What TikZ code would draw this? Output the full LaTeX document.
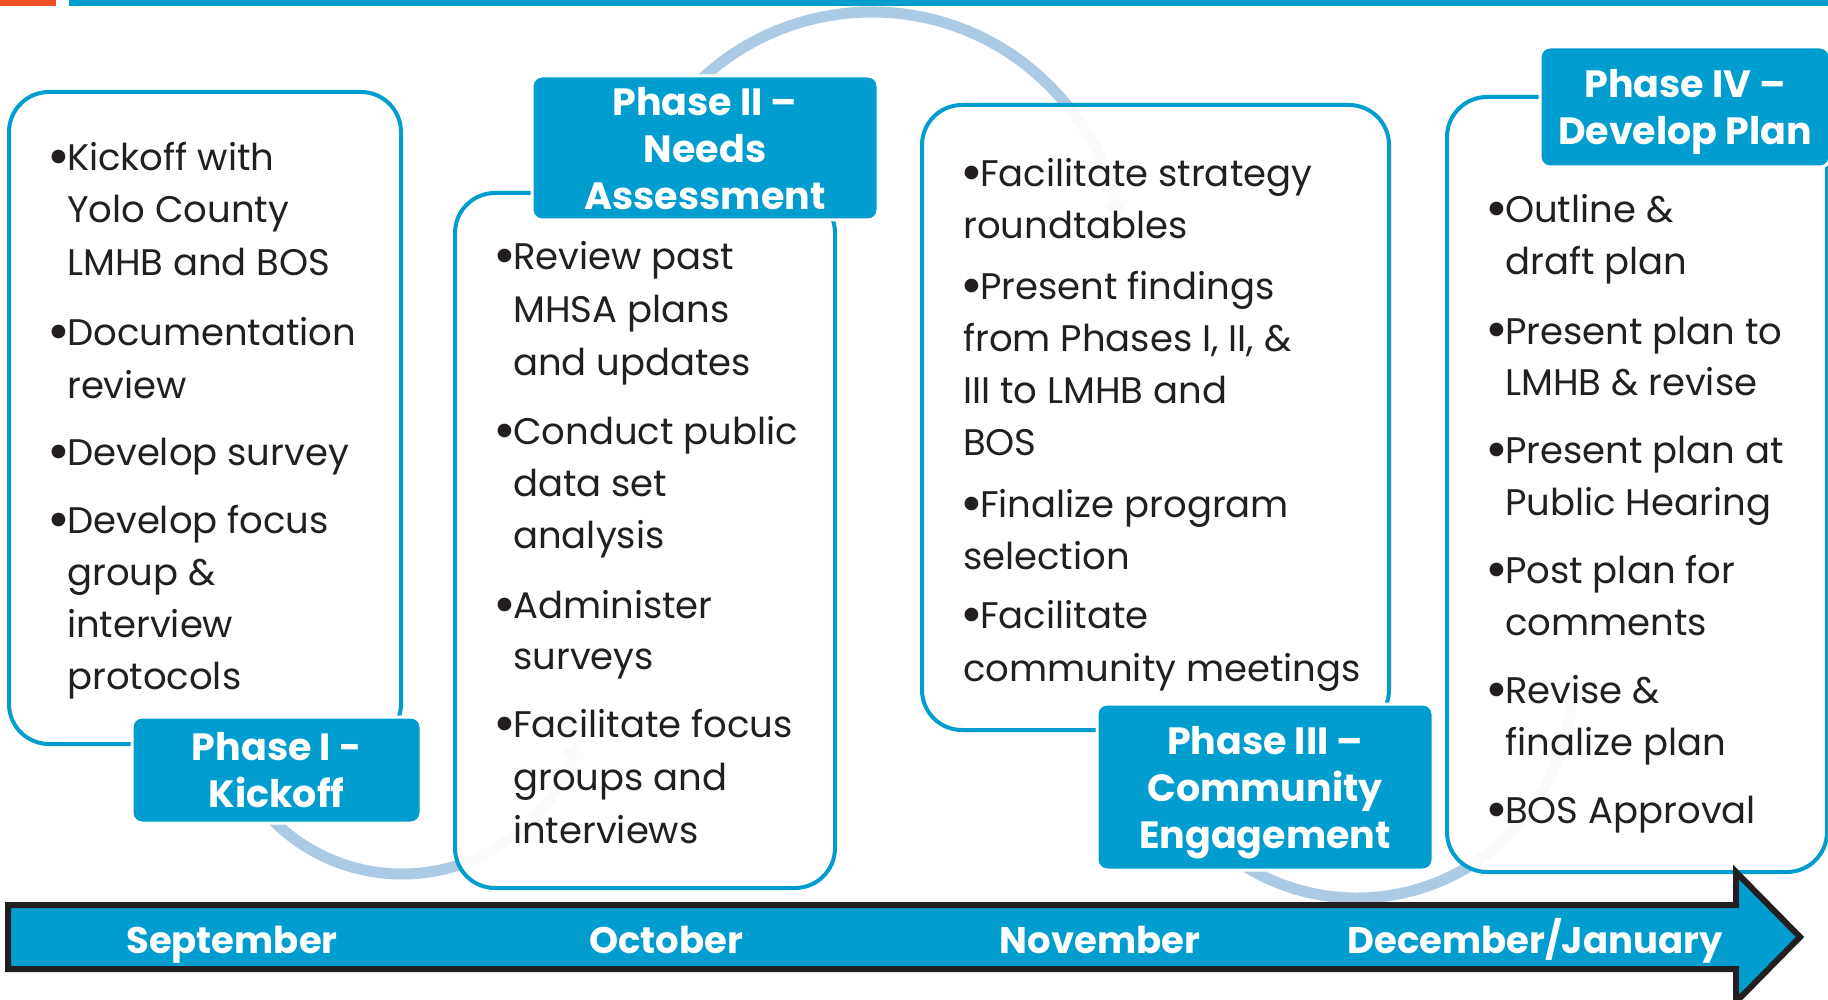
\documentclass[tikz,border=0pt]{standalone}
\usepackage{fontspec}
\usepackage{graphicx}
\setmainfont{Poppins}
\usetikzlibrary{arrows.meta,calc}
\definecolor{phaseblue}{RGB}{0,157,206}
\definecolor{arcblue}{RGB}{172,202,228}
\definecolor{inkdark}{RGB}{35,31,32}
\definecolor{accentorange}{RGB}{240,78,35}
% enlarged bullet hanging to the left of the line
\newcommand{\bul}{\llap{\raisebox{-5pt}{\scalebox{1.5}{\textbullet}}\kern-3pt}}

\begin{document}
\begin{tikzpicture}[x=1pt,y=1pt,
  panel/.style={draw=phaseblue, line width=4pt, fill=white, fill opacity=0.92,
    rounded corners=40pt, inner sep=0pt, outer sep=0pt},
  phasebox/.style={fill=phaseblue, draw=white, line width=3pt, rounded corners=10pt,
    text=white, font=\bfseries\fontsize{38}{47}\selectfont, align=center,
    inner sep=0pt, text depth=0pt},
  bodytxt/.style={anchor=base west, inner sep=0pt, text=inkdark,
    font=\fontsize{37}{52}\selectfont},
  monthtxt/.style={anchor=base, inner sep=0pt, text=white,
    font=\bfseries\fontsize{37}{47}\selectfont},
  flowarc/.style={draw=arcblue, line width=11pt, -{Triangle[length=16pt,width=26pt]}},
]
\useasboundingbox (0,0) rectangle (1828,-1000);
\fill[white] (0,0) rectangle (1828,-1000);

% header rule
\fill[accentorange] (0,0) rectangle (56,-6);
\fill[phaseblue] (69,0) rectangle (1828,-6);

% centres of the flow arcs
\coordinate (c1) at (402,-692);
\coordinate (c2) at (872,-262);
\coordinate (c3) at (1357,-684);

% flow arcs (behind the panels)
\draw[flowarc] ($(c1)+(-140:182)$) arc[start angle=-140, end angle=-16, radius=182];
\draw[flowarc] ($(c2)+(140:250)$) arc[start angle=140, end angle=10, radius=250];
\draw[flowarc] ($(c3)+(-125:214)$) arc[start angle=-125, end angle=1, radius=214];

% content panels
\node[panel, minimum width=392, minimum height=652] (p1) at (205,-418) {};
\node[panel, minimum width=380, minimum height=695] (p2) at (645,-540.5) {};
\node[panel, minimum width=467, minimum height=625] (p3) at (1155.5,-417.5) {};
\node[panel, minimum width=380, minimum height=775] (p4) at (1637,-484.5) {};

% phase labels
\node[phasebox, minimum width=289, minimum height=106] (ph1) at (276.5,-770) {Phase I -\\Kickoff};
\node[phasebox, minimum width=346, minimum height=144] (ph2) at (705,-148) {Phase II –\\Needs\\Assessment};
\node[phasebox, minimum width=336, minimum height=166] (ph3) at (1265,-787) {Phase III –\\Community\\Engagement};
\node[phasebox, minimum width=290, minimum height=120] (ph4) at (1685,-107) {Phase IV –\\Develop Plan};

% panel text, one node per line
\foreach \px/\py/\linetext [count=\n] in {
  67/171/{\bul Kickoff with}, 67/223/{Yolo County}, 67/276/{LMHB and BOS},
  67/345/{\bul Documentation}, 67/398/{review},
  67/465/{\bul Develop survey},
  67/533/{\bul Develop focus}, 67/585/{group \&}, 67/637/{interview}, 67/689/{protocols},
  513/270/{\bul Review past}, 513/322/{MHSA plans}, 513/375/{and updates},
  513/444/{\bul Conduct public}, 513/496/{data set}, 513/548/{analysis},
  513/618/{\bul Administer}, 513/669/{surveys},
  513/737/{\bul Facilitate focus}, 513/790/{groups and}, 513/843/{interviews},
  980/187/{\bul Facilitate strategy}, 963/239/{roundtables},
  980/300/{\bul Present findings}, 963/351/{from Phases I, II, \&},
  963/403/{III to LMHB and}, 963/455/{BOS},
  980/517/{\bul Finalize program}, 963/569/{selection},
  980/628/{\bul Facilitate}, 963/681/{community meetings},
  1505/223/{\bul Outline \&}, 1505/275/{draft plan},
  1505/344/{\bul Present plan to}, 1505/395/{LMHB \& revise},
  1505/463/{\bul Present plan at}, 1505/515/{Public Hearing},
  1505/583/{\bul Post plan for}, 1505/635/{comments},
  1505/703/{\bul Revise \&}, 1505/755/{finalize plan},
  1505/823/{\bul BOS Approval}}
  \node[bodytxt] (line\n) at (\px,-\py) {\linetext};

% timeline arrow
\draw[draw=inkdark, fill=phaseblue, line width=6pt, miter limit=10]
  (8,-905) -- (1736,-905) -- (1736,-872) -- (1800,-937) -- (1736,-1002)
  -- (1736,-969) -- (8,-969) -- cycle;
\node[monthtxt] (m1) at (232,-953) {September};
\node[monthtxt] (m2) at (666,-953) {October};
\node[monthtxt] (m3) at (1100,-953) {November};
\node[monthtxt] (m4) at (1535,-953) {December/January};
\end{tikzpicture}
\end{document}
